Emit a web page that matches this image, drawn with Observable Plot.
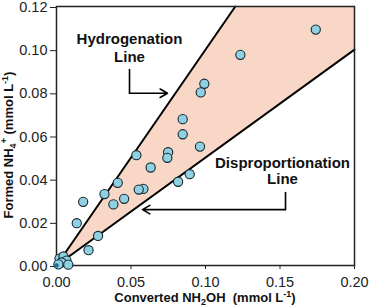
<!DOCTYPE html>
<html>
<head>
<meta charset="utf-8">
<script src="https://cdn.jsdelivr.net/npm/d3@7"></script>
<script src="https://cdn.jsdelivr.net/npm/@observablehq/plot@0.6"></script>
<style>
  html, body { margin: 0; padding: 0; background: #fff; }
</style>
</head>
<body>
<div id="chart"></div>
<script>
// Measured points: converted NH2OH (x) vs formed NH4+ (y), mmol/L
const pointX = [0.174, 0.1234, 0.0992, 0.0968, 0.0847, 0.0847, 0.0963, 0.0749, 0.0744, 0.0536,
                0.0632, 0.0894, 0.0816, 0.0411, 0.0583, 0.0552, 0.0322, 0.0454, 0.0382, 0.0179,
                0.0136, 0.0279, 0.0215, 0.0020, 0.0047, 0.0067, 0.0034, 0.0079, 0.0013];
const pointY = [0.1093, 0.0976, 0.0842, 0.0802, 0.0678, 0.0608, 0.0551, 0.0525, 0.0499, 0.0511,
                0.0454, 0.0423, 0.0388, 0.0383, 0.0355, 0.0352, 0.0331, 0.0309, 0.0283, 0.0295,
                0.0196, 0.0137, 0.0071, 0.0032, 0.0042, 0.0023, 0.0014, 0.0004, 0.0005];
// Shaded band between disproportionation (y = x/2) and hydrogenation (y = x) lines
const bandX = [0, 0.12, 0.2];
const bandLow = [0, 0.06, 0.1];
const bandHigh = [0, 0.12, 0.12];
const hydroX = [0, 0.12];
const hydroY = [0, 0.12];
const dispX = [0, 0.2];
const dispY = [0, 0.1];
// Annotation labels and callout paths (data coordinates)
const labelText = ["Hydrogenation", "Line", "Disproportionation", "Line"];
const labelX = [0.049, 0.049, 0.1517, 0.1517];
const labelY = [0.1050, 0.0967, 0.0473, 0.0398];
const hydroCalloutX = [0.049, 0.049];
const hydroCalloutY = [0.0908, 0.0798];
const hydroArrow = {x1: 0.049, y1: 0.0798, x2: 0.0745, y2: 0.0798};
const dispCalloutX = [0.1537, 0.1537];
const dispCalloutY = [0.0338, 0.0259];
const dispArrow = {x1: 0.1537, y1: 0.0259, x2: 0.0577, y2: 0.0259};
const xTicks = [0, 0.05, 0.10, 0.15, 0.20];
const yTicks = [0, 0.02, 0.04, 0.06, 0.08, 0.10, 0.12];

const band = bandX.map((x, i) => ({x, lo: bandLow[i], hi: bandHigh[i]}));
const pts = pointX.map((x, i) => ({x, y: pointY[i]}));
const hydro = hydroX.map((x, i) => ({x, y: hydroY[i]}));
const disp = dispX.map((x, i) => ({x, y: dispY[i]}));
const labels = labelText.map((t, i) => ({t, x: labelX[i], y: labelY[i]}));
const hc = hydroCalloutX.map((x, i) => ({x, y: hydroCalloutY[i]}));
const dc = dispCalloutX.map((x, i) => ({x, y: dispCalloutY[i]}));

const plot = Plot.plot({
  width: 369,
  height: 307,
  marginLeft: 56,
  marginRight: 15,
  marginTop: 6,
  marginBottom: 42,
  style: {fontFamily: "'Liberation Sans', Arial, sans-serif", fontSize: "14px", color: "#222", background: "#fff"},
  x: {domain: [0, 0.2]},
  y: {domain: [0, 0.12]},
  marks: [
    Plot.areaY(band, {x: "x", y1: "lo", y2: "hi", fill: "#f9d7c7"}),
    Plot.line(hydro, {x: "x", y: "y", stroke: "#000", strokeWidth: 2}),
    Plot.line(disp, {x: "x", y: "y", stroke: "#000", strokeWidth: 2}),
    Plot.frame({stroke: "#222", strokeWidth: 1.5}),
    Plot.axisY({ticks: yTicks, tickFormat: d => d.toFixed(2), tickSize: 6, tickPadding: 3, fontSize: 14, dy: 1, label: null, stroke: "#222", fill: "#222"}),
    Plot.axisX({ticks: xTicks, tickFormat: d => d.toFixed(2), tickSize: 4, tickPadding: 7, fontSize: 14, label: null, stroke: "#222", fill: "#222"}),
    Plot.dot(pts, {x: "x", y: "y", r: 4.6, fill: "#8fd0e3", stroke: "#14262e", strokeWidth: 1.1}),
    Plot.dot([{x: 0, y: 0}], {x: "x", y: "y", r: 2.2, fill: "#1d6f8c"}),
    Plot.line(hc, {x: "x", y: "y", stroke: "#000", strokeWidth: 1.6}),
    Plot.arrow([hydroArrow], {x1: "x1", y1: "y1", x2: "x2", y2: "y2", stroke: "#000", strokeWidth: 1.6, headLength: 8, bend: 0}),
    Plot.line(dc, {x: "x", y: "y", stroke: "#000", strokeWidth: 1.6}),
    Plot.arrow([dispArrow], {x1: "x1", y1: "y1", x2: "x2", y2: "y2", stroke: "#000", strokeWidth: 1.6, headLength: 8, bend: 0}),
    Plot.text(labels, {x: "x", y: "y", text: "t", fontSize: 15, fontWeight: "bold", fill: "#111", textAnchor: "middle"})
  ]
});

const svg = d3.select(plot);
// Force tick label size
svg.selectAll('g[aria-label$="tick label"]').style("font-size", "14.5px");
svg.selectAll('g[aria-label$="tick label"] text').style("font-size", "14.5px");

// X axis title with subscripts
const xt = svg.append("text")
  .attr("x", 205).attr("y", 302)
  .attr("text-anchor", "middle")
  .style("font-size", "13px").attr("font-weight", "bold").attr("fill", "#111");
xt.append("tspan").text("Converted NH");
xt.append("tspan").style("font-size", "9px").attr("dy", 3).text("2");
xt.append("tspan").attr("dy", -3).text("OH  (mmol L");
xt.append("tspan").style("font-size", "9px").attr("dy", -5).text("-1");
xt.append("tspan").attr("dy", 5).text(")");

// Y axis title with sub/superscripts
const yt = svg.append("text")
  .attr("transform", "translate(13,145) rotate(-90)")
  .attr("text-anchor", "middle")
  .style("font-size", "13px").attr("font-weight", "bold").attr("fill", "#111");
yt.append("tspan").text("Formed NH");
yt.append("tspan").style("font-size", "9px").attr("dy", 3).text("4");
yt.append("tspan").style("font-size", "9px").attr("dy", -9).text("+");
yt.append("tspan").attr("dy", 6).text(" (mmol L");
yt.append("tspan").style("font-size", "9px").attr("dy", -5).text("-1");
yt.append("tspan").attr("dy", 5).text(")");

document.getElementById("chart").appendChild(plot);
</script>
</body>
</html>
